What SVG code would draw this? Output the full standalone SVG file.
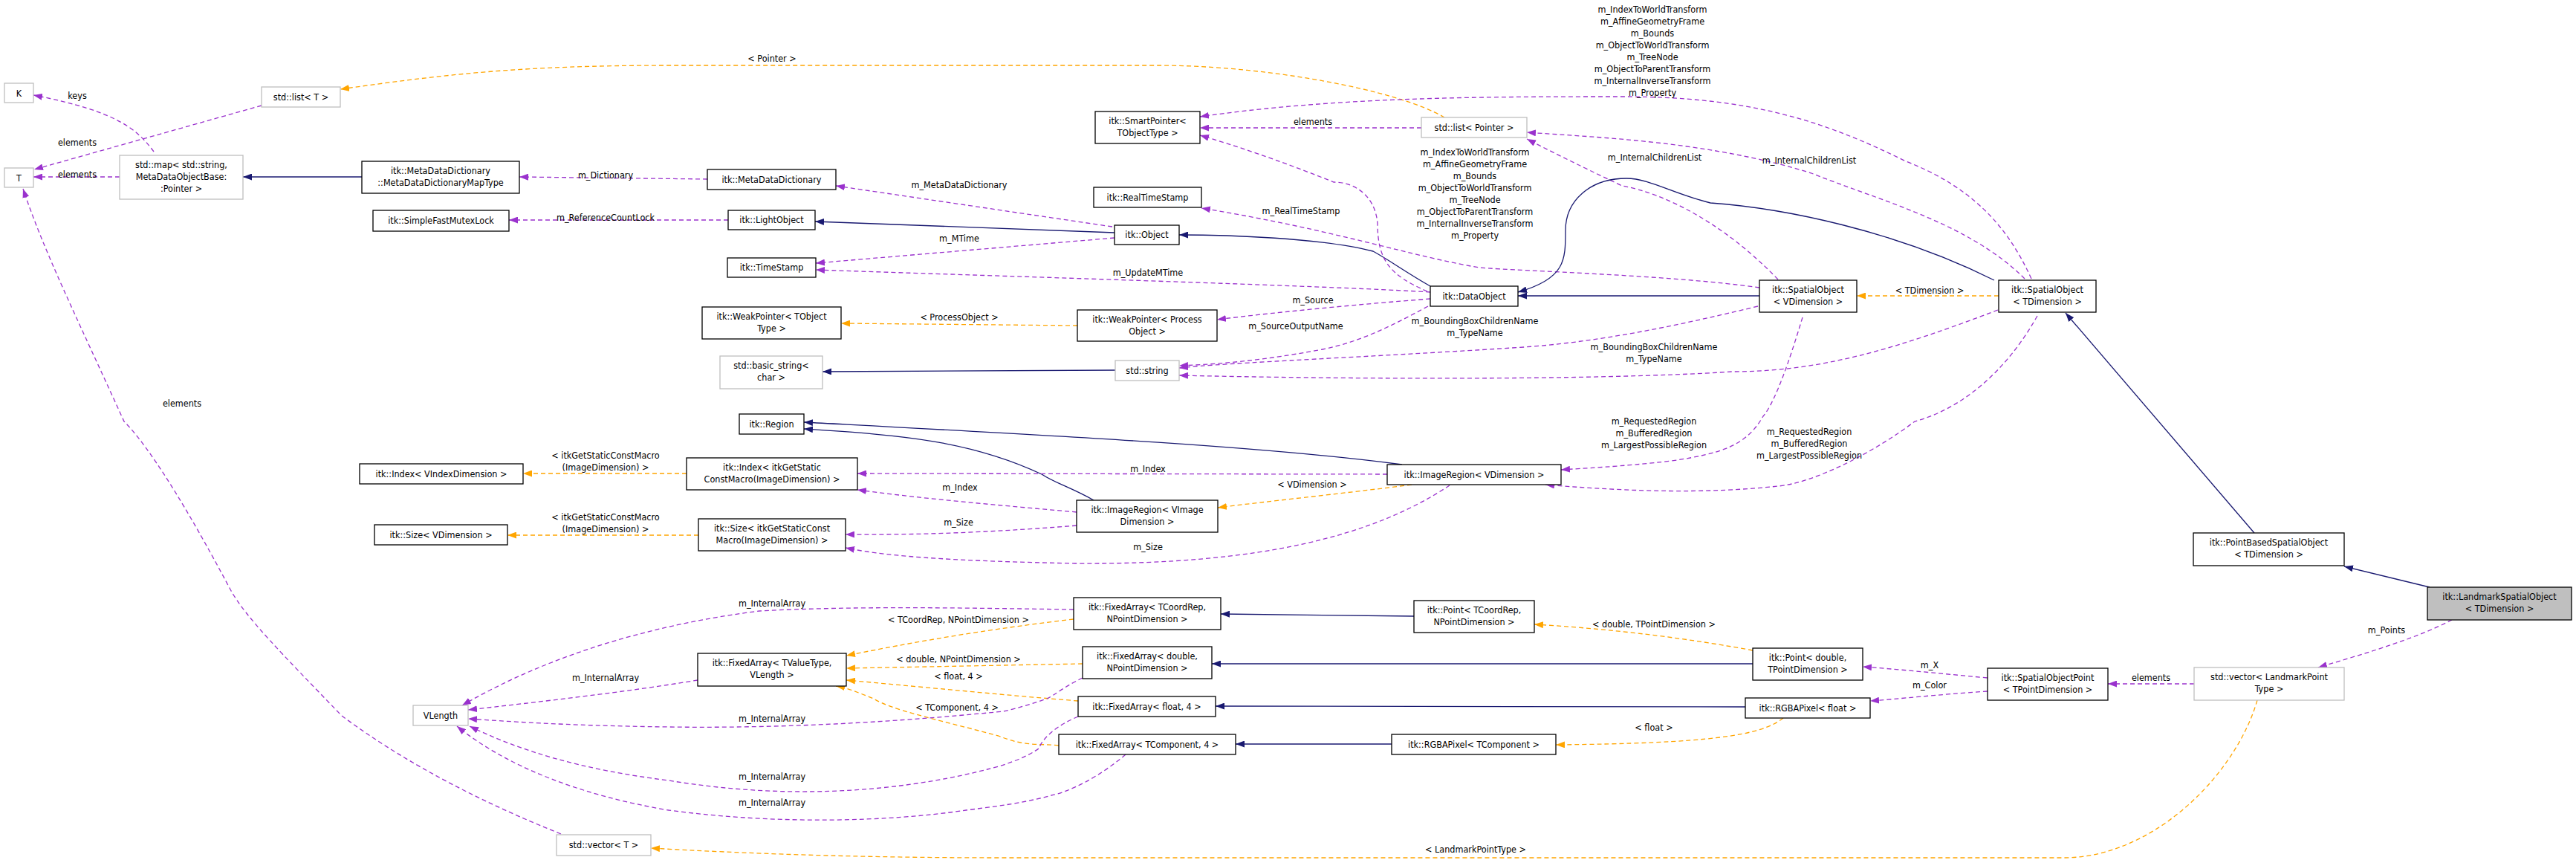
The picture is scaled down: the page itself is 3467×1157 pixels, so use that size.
<svg xmlns="http://www.w3.org/2000/svg" width="3467" height="1157" viewBox="0 0 3467 1157">
<style>
text{font-family:"DejaVu Sans Condensed","Liberation Sans",sans-serif;font-size:12.5px;fill:#000;text-anchor:middle}
.n rect{fill:#fff;stroke:#000;stroke-width:1.3}
.u rect{fill:#fff;stroke:#bfbfbf;stroke-width:1.3}
.h rect{fill:#bfbfbf;stroke:#000;stroke-width:1.3}
.s{fill:none;stroke:#191970;stroke-width:1.3;marker-end:url(#aS)}
.p{fill:none;stroke:#9a32cd;stroke-width:1.3;stroke-dasharray:6,4;marker-end:url(#aP)}
.o{fill:none;stroke:#ffa500;stroke-width:1.3;stroke-dasharray:6,4;marker-end:url(#aO)}
</style>
<defs>
<marker id="aS" markerUnits="userSpaceOnUse" markerWidth="12" markerHeight="9" refX="12" refY="4.5" orient="auto"><path d="M0,0L12,4.5L0,9z" fill="#191970"/></marker>
<marker id="aP" markerUnits="userSpaceOnUse" markerWidth="12" markerHeight="9" refX="12" refY="4.5" orient="auto"><path d="M0,0L12,4.5L0,9z" fill="#9a32cd"/></marker>
<marker id="aO" markerUnits="userSpaceOnUse" markerWidth="12" markerHeight="9" refX="12" refY="4.5" orient="auto"><path d="M0,0L12,4.5L0,9z" fill="#ffa500"/></marker>
</defs>
<rect width="3467" height="1157" fill="#fff"/>
<g id="edges">
<path class="p" d="M207,204 C185,175 160,150 45,128"/>
<path class="p" d="M352,142 L46,228"/>
<path class="p" d="M161,238 L45,238"/>
<path class="s" d="M487,238 L327,238"/>
<path class="p" d="M952,241 L699,238"/>
<path class="p" d="M980,296 L685,296"/>
<path class="s" d="M1500,313 L1097,298"/>
<path class="p" d="M1497,305 L1125,250"/>
<path class="p" d="M1500,320 L1098,354"/>
<path class="s" d="M1925,385 C1890,365 1870,350 1848,338 C1780,320 1650,316 1587,316"/>
<path class="p" d="M1925,393 C1800,385 1300,370 1098,363"/>
<path class="p" d="M1925,402 C1820,410 1700,422 1638,430"/>
<path class="p" d="M1922,412 C1870,440 1830,460 1780,470 C1700,485 1640,490 1587,492"/>
<path class="o" d="M1450,438 L1132,435"/>
<path class="p" d="M2368,387 C2250,370 2050,365 1991,360 C1900,345 1800,310 1617,280"/>
<path class="o" d="M1944,158 C1880,120 1700,88 1559,88 L900,88 C700,88 600,100 458,120"/>
<path class="p" d="M2734,375 C2700,300 2650,250 2565,217 C2450,160 2350,130 2183,130 C2000,130 1800,130 1615,157"/>
<path class="p" d="M1913,172 L1615,172"/>
<path class="p" d="M1921,392 C1870,370 1854,350 1854,300 C1850,260 1820,245 1795,245 C1720,215 1660,195 1615,182"/>
<path class="p" d="M2393,376 C2320,300 2240,260 2183,250 C2120,220 2080,200 2055,187"/>
<path class="p" d="M2725,375 C2650,300 2530,270 2438,233 C2300,190 2150,185 2055,178"/>
<path class="s" d="M2684,377 C2550,310 2400,280 2302,273 C2250,260 2220,240 2189,240 C2140,240 2107,270 2107,310 C2107,350 2107,375 2043,393"/>
<path class="s" d="M2368,398 L2043,398"/>
<path class="o" d="M2690,398 L2499,398"/>
<path class="p" d="M2366,412 C2250,440 2150,460 2051,467 C1850,480 1650,488 1587,495"/>
<path class="p" d="M2689,417 C2550,470 2450,500 2331,500 C2150,512 1800,510 1587,505"/>
<path class="s" d="M1501,498 L1107,500"/>
<path class="p" d="M2426,427 C2410,480 2390,540 2373,560 C2350,600 2317,610 2250,620 C2180,628 2130,630 2101,632"/>
<path class="p" d="M2742,425 C2700,500 2640,550 2577,567 C2520,610 2440,650 2393,654 C2300,664 2200,662 2080,652"/>
<path class="s" d="M1887,625 C1700,600 1400,585 1082,568"/>
<path class="s" d="M1472,673 C1440,655 1420,650 1402,638 C1300,590 1200,585 1082,577"/>
<path class="p" d="M1867,638 L1154,637"/>
<path class="p" d="M1449,689 C1350,680 1250,672 1154,659"/>
<path class="o" d="M1900,652 C1800,665 1700,675 1639,683"/>
<path class="p" d="M1449,707 C1350,715 1250,720 1138,719"/>
<path class="p" d="M1951,653 C1850,720 1700,760 1447,758 C1300,755 1200,750 1138,737"/>
<path class="o" d="M924,637 L704,637"/>
<path class="o" d="M940,720 L683,720"/>
<path class="s" d="M1903,829 L1643,826"/>
<path class="o" d="M2359,875 C2250,855 2150,845 2065,840"/>
<path class="s" d="M2359,893 L1631,893"/>
<path class="s" d="M2349,951 L1636,950"/>
<path class="o" d="M2400,966 C2370,990 2300,1000 2094,1002"/>
<path class="s" d="M1873,1001 L1663,1001"/>
<path class="o" d="M1445,833 C1300,850 1200,870 1139,882"/>
<path class="o" d="M1457,893 C1350,895 1250,897 1139,899"/>
<path class="o" d="M1451,943 C1350,935 1250,925 1139,915"/>
<path class="o" d="M1425,1003 C1400,1000 1380,1005 1344,990 C1250,965 1200,955 1176,940 C1150,930 1140,925 1125,923"/>
<path class="p" d="M1445,820 C1300,818 1150,815 1022,822 C880,840 741,880 622,949"/>
<path class="p" d="M939,915 C850,930 720,945 630,955"/>
<path class="p" d="M1457,912 C1430,925 1420,935 1409,940 C1380,950 1360,955 1350,957 C1200,972 1050,980 900,978 C750,976 680,970 630,967"/>
<path class="p" d="M1451,964 C1425,975 1405,990 1398,1007 C1380,1020 1350,1030 1329,1035 C1200,1068 1050,1075 900,1050 C780,1035 700,1010 632,977"/>
<path class="p" d="M1515,1015 C1480,1045 1440,1065 1415,1070 C1380,1080 1340,1085 1300,1090 C1200,1105 1050,1110 900,1090 C780,1070 680,1030 615,977"/>
<path class="p" d="M755,1122 C600,1060 510,1000 460,963 C380,880 330,830 310,793 C250,680 200,600 167,567 C100,420 60,340 31,254"/>
<path class="o" d="M3038,942 C3010,1040 2900,1154 2777,1154 L1350,1154 C1150,1154 1000,1148 876,1141"/>
<path class="p" d="M2953,920 L2837,920"/>
<path class="p" d="M2675,912 C2600,905 2550,900 2507,897"/>
<path class="p" d="M2675,930 C2600,935 2560,940 2517,943"/>
<path class="p" d="M3300,834 C3250,860 3180,880 3120,898"/>
<path class="s" d="M3270,790 L3155,762"/>
<path class="s" d="M3034,717 L2780,421"/>
</g>
<g id="labels">
<text x="104" y="133">keys</text>
<text x="104" y="196">elements</text>
<text x="104" y="239">elements</text>
<text x="815" y="240">m_Dictionary</text>
<text x="815" y="297">m_ReferenceCountLock</text>
<text x="1039" y="83">&lt; Pointer &gt;</text>
<text x="1767" y="168">elements</text>
<text x="1291" y="253">m_MetaDataDictionary</text>
<text x="1751" y="288">m_RealTimeStamp</text>
<text x="1291" y="325">m_MTime</text>
<text x="1545" y="371">m_UpdateMTime</text>
<text x="1767" y="408">m_Source</text>
<text x="1291" y="431">&lt; ProcessObject &gt;</text>
<text x="1744" y="443">m_SourceOutputName</text>
<text x="2224" y="17">m_IndexToWorldTransform</text>
<text x="2224" y="33">m_AffineGeometryFrame</text>
<text x="2224" y="49">m_Bounds</text>
<text x="2224" y="65">m_ObjectToWorldTransform</text>
<text x="2224" y="81">m_TreeNode</text>
<text x="2224" y="97">m_ObjectToParentTransform</text>
<text x="2224" y="113">m_InternalInverseTransform</text>
<text x="2224" y="129">m_Property</text>
<text x="1985" y="209">m_IndexToWorldTransform</text>
<text x="1985" y="225">m_AffineGeometryFrame</text>
<text x="1985" y="241">m_Bounds</text>
<text x="1985" y="257">m_ObjectToWorldTransform</text>
<text x="1985" y="273">m_TreeNode</text>
<text x="1985" y="289">m_ObjectToParentTransform</text>
<text x="1985" y="305">m_InternalInverseTransform</text>
<text x="1985" y="321">m_Property</text>
<text x="2227" y="216">m_InternalChildrenList</text>
<text x="2435" y="220">m_InternalChildrenList</text>
<text x="2597" y="395">&lt; TDimension &gt;</text>
<text x="1985" y="436">m_BoundingBoxChildrenName</text>
<text x="1985" y="452">m_TypeName</text>
<text x="2226" y="471">m_BoundingBoxChildrenName</text>
<text x="2226" y="487">m_TypeName</text>
<text x="2226" y="571">m_RequestedRegion</text>
<text x="2226" y="587">m_BufferedRegion</text>
<text x="2226" y="603">m_LargestPossibleRegion</text>
<text x="2435" y="585">m_RequestedRegion</text>
<text x="2435" y="601">m_BufferedRegion</text>
<text x="2435" y="617">m_LargestPossibleRegion</text>
<text x="815" y="617">&lt; itkGetStaticConstMacro</text>
<text x="815" y="633">(ImageDimension) &gt;</text>
<text x="815" y="700">&lt; itkGetStaticConstMacro</text>
<text x="815" y="716">(ImageDimension) &gt;</text>
<text x="1545" y="635">m_Index</text>
<text x="1292" y="660">m_Index</text>
<text x="1290" y="707">m_Size</text>
<text x="1545" y="740">m_Size</text>
<text x="1766" y="656">&lt; VDimension &gt;</text>
<text x="1039" y="816">m_InternalArray</text>
<text x="1290" y="838">&lt; TCoordRep, NPointDimension &gt;</text>
<text x="815" y="916">m_InternalArray</text>
<text x="1290" y="891">&lt; double, NPointDimension &gt;</text>
<text x="1290" y="914">&lt; float, 4 &gt;</text>
<text x="1288" y="956">&lt; TComponent, 4 &gt;</text>
<text x="1039" y="971">m_InternalArray</text>
<text x="1039" y="1049">m_InternalArray</text>
<text x="1039" y="1084">m_InternalArray</text>
<text x="245" y="547">elements</text>
<text x="1986" y="1147">&lt; LandmarkPointType &gt;</text>
<text x="2226" y="844">&lt; double, TPointDimension &gt;</text>
<text x="2226" y="983">&lt; float &gt;</text>
<text x="2597" y="899">m_X</text>
<text x="2597" y="926">m_Color</text>
<text x="2895" y="916">elements</text>
<text x="3212" y="852">m_Points</text>
</g>
<g id="K" class="u"><rect x="6" y="112" width="39" height="26"/><text x="25.5" y="130">K</text></g>
<g id="T" class="u"><rect x="6" y="226" width="39" height="26"/><text x="25.5" y="244">T</text></g>
<g id="stdmap" class="u"><rect x="161" y="209" width="166" height="59"/><text x="244" y="226">std::map&lt; std::string,</text><text x="244" y="242">MetaDataObjectBase:</text><text x="244" y="258">:Pointer &gt;</text></g>
<g id="stdlistT" class="u"><rect x="352" y="117" width="106" height="27"/><text x="405" y="135">std::list&lt; T &gt;</text></g>
<g id="MDDMapType" class="n"><rect x="487" y="217" width="212" height="43"/><text x="593" y="234">itk::MetaDataDictionary</text><text x="593" y="250">::MetaDataDictionaryMapType</text></g>
<g id="Mutex" class="n"><rect x="502" y="283" width="183" height="28"/><text x="593.5" y="301">itk::SimpleFastMutexLock</text></g>
<g id="MDD" class="n"><rect x="952" y="228" width="173" height="27"/><text x="1038.5" y="246">itk::MetaDataDictionary</text></g>
<g id="LightObject" class="n"><rect x="980" y="283" width="117" height="26"/><text x="1038.5" y="300">itk::LightObject</text></g>
<g id="TimeStamp" class="n"><rect x="979" y="347" width="119" height="26"/><text x="1038.5" y="364">itk::TimeStamp</text></g>
<g id="WeakPointerT" class="n"><rect x="945" y="413" width="187" height="43"/><text x="1038.5" y="430">itk::WeakPointer&lt; TObject</text><text x="1038.5" y="446">Type &gt;</text></g>
<g id="SmartPointer" class="n"><rect x="1474" y="150" width="141" height="43"/><text x="1544.5" y="167">itk::SmartPointer&lt;</text><text x="1544.5" y="183">TObjectType &gt;</text></g>
<g id="RealTimeStamp" class="n"><rect x="1472" y="252" width="145" height="27"/><text x="1544.5" y="270">itk::RealTimeStamp</text></g>
<g id="Object" class="n"><rect x="1500" y="303" width="87" height="26"/><text x="1543.5" y="320">itk::Object</text></g>
<g id="WeakPointerP" class="n"><rect x="1450" y="417" width="188" height="42"/><text x="1544" y="434">itk::WeakPointer&lt; Process</text><text x="1544" y="450">Object &gt;</text></g>
<g id="stdlistP" class="u"><rect x="1913" y="158" width="142" height="27"/><text x="1984" y="176">std::list&lt; Pointer &gt;</text></g>
<g id="DataObject" class="n"><rect x="1925" y="385" width="118" height="27"/><text x="1984" y="403">itk::DataObject</text></g>
<g id="SpatialObjectV" class="n"><rect x="2368" y="377" width="131" height="43"/><text x="2433.5" y="394">itk::SpatialObject</text><text x="2433.5" y="410">&lt; VDimension &gt;</text></g>
<g id="SpatialObjectT" class="n"><rect x="2690" y="377" width="131" height="43"/><text x="2755.5" y="394">itk::SpatialObject</text><text x="2755.5" y="410">&lt; TDimension &gt;</text></g>
<g id="basicstring" class="u"><rect x="969" y="479" width="138" height="44"/><text x="1038" y="496">std::basic_string&lt;</text><text x="1038" y="512">char &gt;</text></g>
<g id="stdstring" class="u"><rect x="1501" y="485" width="86" height="27"/><text x="1544" y="503">std::string</text></g>
<g id="Region" class="n"><rect x="995" y="557" width="87" height="27"/><text x="1038.5" y="575">itk::Region</text></g>
<g id="IndexMacro" class="n"><rect x="924" y="616" width="230" height="43"/><text x="1039" y="633">itk::Index&lt; itkGetStatic</text><text x="1039" y="649">ConstMacro(ImageDimension) &gt;</text></g>
<g id="SizeMacro" class="n"><rect x="940" y="698" width="198" height="43"/><text x="1039" y="715">itk::Size&lt; itkGetStaticConst</text><text x="1039" y="731">Macro(ImageDimension) &gt;</text></g>
<g id="IndexV" class="n"><rect x="484" y="624" width="220" height="27"/><text x="594" y="642">itk::Index&lt; VIndexDimension &gt;</text></g>
<g id="SizeV" class="n"><rect x="504" y="706" width="179" height="27"/><text x="593.5" y="724">itk::Size&lt; VDimension &gt;</text></g>
<g id="ImageRegionVImage" class="n"><rect x="1449" y="673" width="190" height="43"/><text x="1544" y="690">itk::ImageRegion&lt; VImage</text><text x="1544" y="706">Dimension &gt;</text></g>
<g id="ImageRegionV" class="n"><rect x="1867" y="625" width="234" height="27"/><text x="1984" y="643">itk::ImageRegion&lt; VDimension &gt;</text></g>
<g id="FixedArrayTCoord" class="n"><rect x="1445" y="804" width="198" height="43"/><text x="1544" y="821">itk::FixedArray&lt; TCoordRep,</text><text x="1544" y="837">NPointDimension &gt;</text></g>
<g id="PointTCoord" class="n"><rect x="1903" y="808" width="162" height="43"/><text x="1984" y="825">itk::Point&lt; TCoordRep,</text><text x="1984" y="841">NPointDimension &gt;</text></g>
<g id="FixedArrayTValue" class="n"><rect x="939" y="879" width="200" height="44"/><text x="1039" y="896">itk::FixedArray&lt; TValueType,</text><text x="1039" y="912">VLength &gt;</text></g>
<g id="FixedArrayDouble" class="n"><rect x="1457" y="870" width="174" height="43"/><text x="1544" y="887">itk::FixedArray&lt; double,</text><text x="1544" y="903">NPointDimension &gt;</text></g>
<g id="FixedArrayFloat" class="n"><rect x="1451" y="937" width="185" height="27"/><text x="1543.5" y="955">itk::FixedArray&lt; float, 4 &gt;</text></g>
<g id="FixedArrayTComp" class="n"><rect x="1425" y="988" width="238" height="27"/><text x="1544" y="1006">itk::FixedArray&lt; TComponent, 4 &gt;</text></g>
<g id="RGBATComp" class="n"><rect x="1873" y="988" width="221" height="27"/><text x="1983.5" y="1006">itk::RGBAPixel&lt; TComponent &gt;</text></g>
<g id="VLength" class="u"><rect x="556" y="949" width="74" height="27"/><text x="593" y="967">VLength</text></g>
<g id="vectorT" class="u"><rect x="749" y="1123" width="127" height="28"/><text x="812.5" y="1141">std::vector&lt; T &gt;</text></g>
<g id="PointBased" class="n"><rect x="2952" y="717" width="203" height="44"/><text x="3053.5" y="734">itk::PointBasedSpatialObject</text><text x="3053.5" y="750">&lt; TDimension &gt;</text></g>
<g id="Landmark" class="h"><rect x="3267" y="790" width="194" height="44"/><text x="3364" y="807">itk::LandmarkSpatialObject</text><text x="3364" y="823">&lt; TDimension &gt;</text></g>
<g id="vectorL" class="u"><rect x="2953" y="898" width="202" height="44"/><text x="3054" y="915">std::vector&lt; LandmarkPoint</text><text x="3054" y="931">Type &gt;</text></g>
<g id="SOPoint" class="n"><rect x="2675" y="899" width="162" height="43"/><text x="2756" y="916">itk::SpatialObjectPoint</text><text x="2756" y="932">&lt; TPointDimension &gt;</text></g>
<g id="PointDouble" class="n"><rect x="2359" y="872" width="148" height="43"/><text x="2433" y="889">itk::Point&lt; double,</text><text x="2433" y="905">TPointDimension &gt;</text></g>
<g id="RGBAFloat" class="n"><rect x="2349" y="939" width="168" height="27"/><text x="2433" y="957">itk::RGBAPixel&lt; float &gt;</text></g>
</svg>
